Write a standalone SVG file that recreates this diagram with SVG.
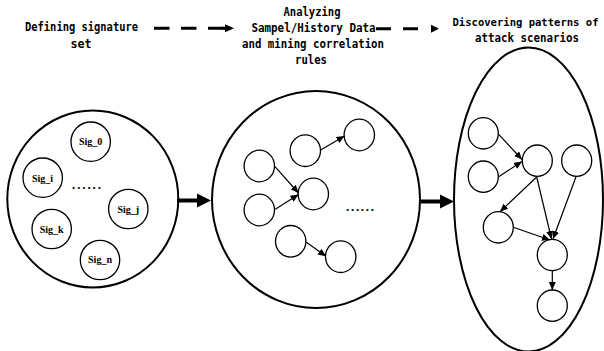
<svg xmlns="http://www.w3.org/2000/svg" width="604" height="351" viewBox="0 0 604 351">
<style>
.hd{font-family:"DejaVu Sans Mono","Liberation Mono",monospace;font-weight:bold;font-size:12px;fill:#000;text-anchor:middle}
.hd2{font-size:11px}
.sig{font-family:"Liberation Serif","Times New Roman",serif;font-weight:bold;font-size:10px;fill:#000;text-anchor:middle}
.big{fill:none;stroke:#000;stroke-width:2}
.sm{fill:#fff;stroke:#000;stroke-width:1.3}
.dots{font-family:"Liberation Serif",serif;font-weight:bold;font-size:13px;fill:#000}
.ln{stroke:#000;stroke-width:1.2;fill:none;marker-end:url(#ah)}
</style>
<defs>
<marker id="ah" markerUnits="userSpaceOnUse" markerWidth="9" markerHeight="8" refX="8" refY="3.5" orient="auto">
<path d="M0,0 L8,3.5 L0,7 z" fill="#000"/>
</marker>
</defs>
<rect width="604" height="351" fill="#fff"/>

<g id="title-define">
<text class="hd" x="81.5" y="31" textLength="113" lengthAdjust="spacingAndGlyphs">Defining signature</text>
<text class="hd" x="81" y="48" textLength="21" lengthAdjust="spacingAndGlyphs">set</text>
</g>
<g id="title-analyze">
<text class="hd" x="312" y="16" textLength="57" lengthAdjust="spacingAndGlyphs">Analyzing</text>
<text class="hd" x="313.5" y="32" textLength="124" lengthAdjust="spacingAndGlyphs">Sampel/History Data</text>
<text class="hd" x="313" y="48" textLength="142" lengthAdjust="spacingAndGlyphs">and mining correlation</text>
<text class="hd" x="311" y="64" textLength="32" lengthAdjust="spacingAndGlyphs">rules</text>
</g>
<g id="title-discover">
<text class="hd hd2" x="525.5" y="25.5" textLength="146" lengthAdjust="spacingAndGlyphs">Discovering patterns of</text>
<text class="hd" x="527" y="42" textLength="104" lengthAdjust="spacingAndGlyphs">attack scenarios</text>
</g>

<g id="signature-set">
<ellipse class="big" cx="92.8" cy="199" rx="85.5" ry="88.5"/>
<circle class="sm" cx="90.7" cy="141.7" r="19.7"/>
<text class="sig" x="90.7" y="145.3">Sig_0</text>
<circle class="sm" cx="42.7" cy="177.7" r="19.7"/>
<text class="sig" x="42.5" y="181.5">Sig_i</text>
<circle class="sm" cx="128.3" cy="209" r="19.7"/>
<text class="sig" x="128.3" y="212.7">Sig_j</text>
<circle class="sm" cx="51.7" cy="229" r="19.7"/>
<text class="sig" x="51.7" y="232.7">Sig_k</text>
<circle class="sm" cx="100" cy="260" r="19.7"/>
<text class="sig" x="100" y="263.3">Sig_n</text>
<text class="dots" x="72" y="189" textLength="29" lengthAdjust="spacing">......</text>
</g>

<g id="correlation-rules">
<ellipse class="big" cx="316" cy="199.5" rx="104" ry="108.5"/>
<ellipse class="sm" cx="259.3" cy="166" rx="15.2" ry="15.8"/>
<ellipse class="sm" cx="259.3" cy="210" rx="15.2" ry="15.8"/>
<ellipse class="sm" cx="305.3" cy="150.7" rx="15.2" ry="15.8"/>
<ellipse class="sm" cx="359.3" cy="135" rx="15.2" ry="15.8"/>
<ellipse class="sm" cx="313.3" cy="194" rx="15.2" ry="15.8"/>
<ellipse class="sm" cx="290.7" cy="241.3" rx="15.2" ry="15.8"/>
<ellipse class="sm" cx="340.7" cy="256.7" rx="15.2" ry="15.8"/>
<text class="dots" x="346" y="211" textLength="28" lengthAdjust="spacing">......</text>
</g>

<g id="attack-scenarios">
<ellipse class="big" cx="528.5" cy="199.5" rx="74.5" ry="152"/>
<ellipse class="sm" cx="483.3" cy="133.3" rx="15" ry="15.7"/>
<ellipse class="sm" cx="483.3" cy="176.7" rx="15" ry="15.7"/>
<ellipse class="sm" cx="537.3" cy="160.7" rx="15" ry="15.7"/>
<ellipse class="sm" cx="576.7" cy="160.7" rx="15" ry="15.7"/>
<ellipse class="sm" cx="498.3" cy="227.3" rx="15" ry="15.7"/>
<ellipse class="sm" cx="552.3" cy="255" rx="15" ry="15.7"/>
<ellipse class="sm" cx="552.3" cy="305.7" rx="15" ry="15.7"/>
</g>

<g id="connectors">
<line x1="154" y1="28.3" x2="225" y2="28.3" stroke="#000" stroke-width="3" stroke-dasharray="15.5 11.5"/>
<line x1="222" y1="28.3" x2="227" y2="28.3" stroke="#000" stroke-width="3"/>
<polygon points="225,24.3 234,28.3 225,32.3" fill="#000"/>
<line x1="376" y1="28.8" x2="420" y2="28.8" stroke="#000" stroke-width="3" stroke-dasharray="15 12"/>
<polygon points="431,24.8 439,28.8 431,32.8" fill="#000"/>
<line x1="177" y1="200.5" x2="199" y2="200.5" stroke="#000" stroke-width="4"/>
<polygon points="197,193.5 211,200.5 197,207.5" fill="#000"/>
<line x1="421" y1="201.5" x2="442" y2="201.5" stroke="#000" stroke-width="4"/>
<polygon points="440,194.5 454,201.5 440,208.5" fill="#000"/>
<line class="ln" x1="275" y1="166.7" x2="298.5" y2="193"/>
<line class="ln" x1="275.3" y1="209.3" x2="298.5" y2="194.5"/>
<line class="ln" x1="320.7" y1="150" x2="344.5" y2="136"/>
<line class="ln" x1="306" y1="242" x2="326" y2="256.3"/>
<line class="ln" x1="498.7" y1="134.3" x2="522" y2="159.5"/>
<line class="ln" x1="498.7" y1="176.7" x2="522" y2="161.5"/>
<line class="ln" x1="536.7" y1="177" x2="500" y2="211.7"/>
<line class="ln" x1="536.7" y1="177" x2="551.5" y2="239"/>
<line class="ln" x1="576" y1="176.7" x2="553" y2="239"/>
<line class="ln" x1="513.3" y1="227.3" x2="550" y2="240"/>
<line class="ln" x1="552.3" y1="270.7" x2="552.3" y2="290"/>
</g>
</svg>
